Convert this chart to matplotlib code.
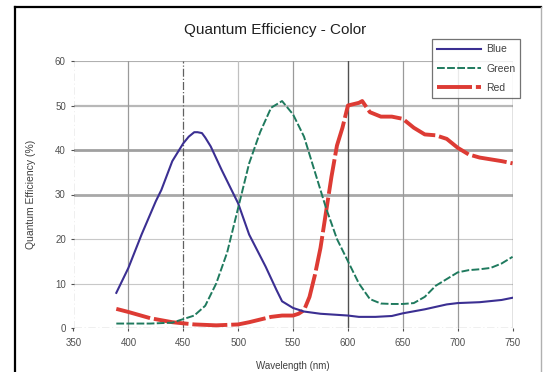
import matplotlib
matplotlib.use("Agg")
import matplotlib.pyplot as plt
from matplotlib.lines import Line2D

plt.rcParams['font.family'] = ['Liberation Sans', 'DejaVu Sans']

# Wavelength samples (nm) and quantum efficiency (%) per colour channel
blue_wl = [389, 400, 412, 425, 430, 440, 450, 455, 460, 463, 467, 470, 475, 485, 500, 510, 525, 535, 540,
           550, 560, 575, 600, 610, 625, 640, 650, 670, 690, 700, 720, 740, 750]
blue_qe = [7.9, 13.5, 21.0, 28.5, 31.0, 37.5, 41.5, 43.0, 44.0, 44.0, 43.8, 42.8, 40.8, 35.5, 28.0, 21.0,
           13.8, 8.5, 6.0, 4.5, 3.7, 3.2, 2.8, 2.5, 2.5, 2.7, 3.3, 4.2, 5.3, 5.6, 5.8, 6.3, 6.8]

green_wl = [389, 400, 420, 440, 450, 460, 470, 480, 490, 500, 510, 520, 530, 540, 550, 560, 570, 580, 590,
            600, 610, 620, 630, 640, 650, 660, 670, 680, 690, 700, 710, 720, 730, 740, 750]
green_qe = [1.0, 1.0, 1.0, 1.2, 2.0, 2.8, 5.0, 10.0, 17.0, 27.0, 37.0, 44.0, 49.5, 51.0, 48.0, 43.0, 35.0,
            27.0, 20.0, 15.0, 10.0, 6.5, 5.5, 5.4, 5.4, 5.6, 7.0, 9.5, 11.0, 12.5, 13.0, 13.2, 13.5, 14.5, 16.0]

red_wl = [389, 400, 420, 440, 460, 480, 500, 510, 520, 530, 540, 550, 555, 560, 565, 570, 575, 580, 585,
          590, 595, 600, 605, 610, 613, 620, 630, 640, 650, 660, 670, 680, 690, 700, 710, 720, 740, 750]
red_qe = [4.3, 3.6, 2.2, 1.3, 0.8, 0.6, 0.8, 1.3, 1.9, 2.5, 2.8, 2.8, 3.2, 4.0, 7.0, 12.0, 18.0, 26.0, 34.0,
          41.0, 45.0, 50.0, 50.3, 50.6, 51.0, 48.5, 47.5, 47.5, 47.0, 45.0, 43.5, 43.3, 42.5, 40.5, 39.0, 38.3,
          37.5, 37.0]

x_ticks = [350, 400, 450, 500, 550, 600, 650, 700, 750]
y_ticks = [0, 10, 20, 30, 40, 50, 60]

fig = plt.figure(figsize=(5.57, 3.72), dpi=100)
fig.patch.set_facecolor('white')

# Page frame around the chart
W, H = 557.0, 372.0
fig.add_artist(Line2D([15 / W, 15 / W], [0, 1 - 7 / H], color='black', lw=1.6, transform=fig.transFigure))
fig.add_artist(Line2D([15 / W, 541 / W], [1 - 7 / H, 1 - 7 / H], color='black', lw=1.6, transform=fig.transFigure))
fig.add_artist(Line2D([541 / W, 541 / W], [0, 1 - 7 / H], color='#b0b0b0', lw=1.0, transform=fig.transFigure))

ax = fig.add_axes([73.5 / W, 1 - 328 / H, (512.6 - 73.5) / W, (328 - 61) / H])
ax.set_xlim(350, 750)
ax.set_ylim(0, 60)
for s in ax.spines.values():
    s.set_visible(False)

# Horizontal grid
h_style = {10: ('#c8c8c8', 0.8), 20: ('#c8c8c8', 0.8), 30: ('#a8a8a8', 2.0),
           40: ('#a0a0a0', 2.0), 50: ('#b8b8b8', 1.6), 60: ('#b0b0b0', 0.8)}
for yv, (c, w) in h_style.items():
    ax.axhline(yv, color=c, lw=w, zorder=1)
# Vertical grid
v_style = {400: ('#9a9a9a', 0.9, '-'), 450: ('#606060', 0.9, '-.'), 500: ('#c0c0c0', 0.9, '-'),
           550: ('#9a9a9a', 0.9, '-'), 600: ('#505050', 1.0, '-'), 650: ('#9a9a9a', 0.9, '-'),
           700: ('#9a9a9a', 0.9, '-'), 750: ('#707070', 1.0, '-')}
for xv, (c, w, ls) in v_style.items():
    ax.axvline(xv, color=c, lw=w, ls=ls, zorder=1)
# Axis lines
ax.axvline(350, color='#808080', lw=0.9, ls=(0, (6, 2, 1, 2)), zorder=1)
ax.axhline(0, color='#808080', lw=0.9, ls=(0, (6, 2, 1, 2)), zorder=1)

ax.plot(blue_wl, blue_qe, color='#3b2f92', lw=1.5, label='Blue', zorder=3)
ax.plot(green_wl, green_qe, color='#1f7a5e', lw=1.4, ls=(0, (4, 1.2)), label='Green', zorder=3)
ax.plot(red_wl, red_qe, color='#dd3b34', lw=2.8, ls=(0, (9, 1.0)), label='Red', zorder=2)

ax.set_xticks(x_ticks)
ax.set_yticks(y_ticks)
ax.tick_params(axis='both', labelsize=7, colors='#505050', length=2.5, width=0.8, pad=3)
ax.tick_params(axis='x', pad=5)

ax.set_xlabel('Wavelength (nm)', fontsize=7, color='#404040', labelpad=9)
ax.set_ylabel('Quantum Efficiency (%)', fontsize=7.5, color='#404040', labelpad=14)
fig.text(275.6 / W, 1 - 30 / H, 'Quantum Efficiency - Color', ha='center', va='center',
         fontsize=11, color='#202020')

leg = ax.legend(loc='upper left', bbox_to_anchor=(432 / W, 1 - 39 / H), bbox_transform=fig.transFigure,
                fontsize=7.5, frameon=True, fancybox=False, edgecolor='#505050', handlelength=4.2,
                borderpad=0.5, labelspacing=0.9, handletextpad=0.5, borderaxespad=0)
leg.get_frame().set_linewidth(0.9)
for t in leg.get_texts():
    t.set_color('#404040')

fig.savefig('out.png', dpi=100)
